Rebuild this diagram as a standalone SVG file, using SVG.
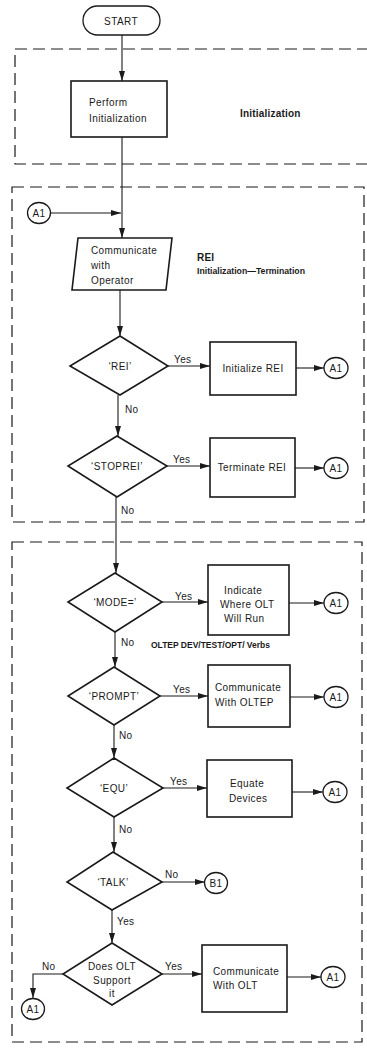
<svg xmlns="http://www.w3.org/2000/svg" width="367" height="1053" viewBox="0 0 367 1053">
<style>
text{font-family:"Liberation Sans",Arial,sans-serif;font-size:10px;fill:#1a1a1a;letter-spacing:0.4px}
.lbl{font-weight:bold;letter-spacing:0.2px}
.sm{font-size:9.5px;letter-spacing:0}
.c{text-anchor:middle}
.shape{fill:#fff;stroke:#1a1a1a;stroke-width:1.6}
.term{fill:#fff;stroke:#1a1a1a;stroke-width:1.3}
.zone{fill:none;stroke:#1a1a1a;stroke-width:1.2;stroke-dasharray:12 6}
.ln{fill:none;stroke:#1a1a1a;stroke-width:1.1}
.ar{marker-end:url(#ah)}
</style>
<defs>
<marker id="ah" markerUnits="userSpaceOnUse" markerWidth="10" markerHeight="6" refX="10" refY="3" orient="auto">
<path d="M0,0 L10,3 L0,6 z" fill="#1a1a1a"/>
</marker>
</defs>
<rect width="367" height="1053" fill="#fff"/>

<g id="zones">
<rect class="zone" x="15" y="49" width="362" height="115"/>
<rect class="zone" x="12" y="187" width="352" height="335"/>
<rect class="zone" x="12" y="542" width="350" height="500"/>
<text class="lbl" x="240" y="117">Initialization</text>
<text class="lbl" x="197" y="261">REI</text>
<text class="lbl sm" x="197" y="274" textLength="108" lengthAdjust="spacingAndGlyphs">Initialization—Termination</text>
<text class="lbl sm" x="151" y="648" textLength="119" lengthAdjust="spacingAndGlyphs">OLTEP DEV/TEST/OPT/ Verbs</text>
</g>

<g id="connectors">
<line class="ln ar" x1="122" y1="35" x2="122" y2="81"/>
<line class="ln ar" x1="122" y1="137" x2="122" y2="238"/>
<line class="ln ar" x1="51" y1="213" x2="121" y2="213"/>
<line class="ln ar" x1="120" y1="290" x2="120" y2="336"/>
<line class="ln ar" x1="168" y1="366" x2="210" y2="366"/>
<line class="ln ar" x1="296" y1="368" x2="324" y2="368"/>
<line class="ln ar" x1="118" y1="395" x2="118" y2="436"/>
<line class="ln ar" x1="167" y1="466" x2="210" y2="466"/>
<line class="ln ar" x1="295" y1="468" x2="324" y2="468"/>
<line class="ln ar" x1="116" y1="497" x2="116" y2="573"/>
<line class="ln ar" x1="162" y1="602" x2="208" y2="602"/>
<line class="ln ar" x1="289" y1="603" x2="324" y2="603"/>
<line class="ln ar" x1="115" y1="632" x2="115" y2="667"/>
<line class="ln ar" x1="160" y1="696" x2="208" y2="696"/>
<line class="ln ar" x1="290" y1="697" x2="324" y2="697"/>
<line class="ln ar" x1="114" y1="725" x2="114" y2="758"/>
<line class="ln ar" x1="163" y1="788" x2="207" y2="788"/>
<line class="ln ar" x1="292" y1="792" x2="323" y2="792"/>
<line class="ln ar" x1="114" y1="817" x2="114" y2="852"/>
<line class="ln ar" x1="162" y1="882" x2="205" y2="882"/>
<line class="ln ar" x1="112" y1="910" x2="112" y2="943"/>
<line class="ln ar" x1="162" y1="974" x2="202" y2="974"/>
<line class="ln ar" x1="287" y1="977" x2="321" y2="977"/>
<polyline class="ln ar" points="63,974 33,974 33,998"/>
<text x="174" y="363">Yes</text>
<text x="125" y="413">No</text>
<text x="173" y="463">Yes</text>
<text x="121" y="514">No</text>
<text x="175" y="600">Yes</text>
<text x="121" y="646">No</text>
<text x="173" y="693">Yes</text>
<text x="119" y="739">No</text>
<text x="170" y="785">Yes</text>
<text x="119" y="833">No</text>
<text x="165" y="878">No</text>
<text x="117" y="925">Yes</text>
<text x="42" y="970">No</text>
<text x="165" y="970">Yes</text>
</g>

<g id="start">
<rect class="term" x="83" y="6" width="77" height="29" rx="14.5"/>
<text class="c" x="121" y="24.5">START</text>
</g>

<g id="perform-init">
<rect class="shape" x="71" y="81" width="96" height="56"/>
<text x="89" y="106">Perform</text>
<text x="89" y="122">Initialization</text>
</g>

<g id="a1-entry">
<ellipse class="term" cx="39" cy="213" rx="11.5" ry="10.5"/>
<text class="c" x="39" y="217">A1</text>
</g>

<g id="communicate-operator">
<polygon class="shape" points="78,238 172,238 166,290 72,290"/>
<text x="91" y="254">Communicate</text>
<text x="91" y="269">with</text>
<text x="91" y="284">Operator</text>
</g>

<g id="d-rei">
<polygon class="shape" points="120,336 168,366 120,395 70,366"/>
<text class="c" x="120" y="370">‘REI’</text>
</g>

<g id="init-rei">
<rect class="shape" x="210" y="342" width="86" height="53"/>
<text class="c" x="253" y="372">Initialize REI</text>
</g>
<g id="a1-rei">
<ellipse class="term" cx="336" cy="368" rx="12" ry="10.5"/>
<text class="c" x="336" y="372">A1</text>
</g>

<g id="d-stoprei">
<polygon class="shape" points="117,436 167,466 117,497 68,466"/>
<text class="c" x="117" y="470">‘STOPREI’</text>
</g>
<g id="term-rei">
<rect class="shape" x="210" y="438" width="85" height="59"/>
<text class="c" x="252" y="471">Terminate REI</text>
</g>
<g id="a1-stoprei">
<ellipse class="term" cx="336" cy="468" rx="12" ry="10.5"/>
<text class="c" x="336" y="472">A1</text>
</g>

<g id="d-mode">
<polygon class="shape" points="115,573 162,602 115,632 68,602"/>
<text class="c" x="115" y="606">‘MODE=’</text>
</g>
<g id="indicate">
<rect class="shape" x="208" y="565" width="81" height="70"/>
<text x="224" y="594">Indicate</text>
<text x="220" y="608">Where OLT</text>
<text x="224" y="622">Will Run</text>
</g>
<g id="a1-mode">
<ellipse class="term" cx="336" cy="603" rx="12" ry="10.5"/>
<text class="c" x="336" y="607">A1</text>
</g>

<g id="d-prompt">
<polygon class="shape" points="114,667 160,696 114,725 68,696"/>
<text class="c" x="114" y="700">‘PROMPT’</text>
</g>
<g id="comm-oltep">
<rect class="shape" x="208" y="665" width="82" height="62"/>
<text x="215" y="691">Communicate</text>
<text x="215" y="706">With OLTEP</text>
</g>
<g id="a1-prompt">
<ellipse class="term" cx="336" cy="697" rx="12" ry="10.5"/>
<text class="c" x="336" y="701">A1</text>
</g>

<g id="d-equ">
<polygon class="shape" points="114,758 163,788 114,817 67,788"/>
<text class="c" x="114" y="792">‘EQU’</text>
</g>
<g id="equate">
<rect class="shape" x="207" y="760" width="85" height="57"/>
<text x="230" y="787">Equate</text>
<text x="229" y="802">Devices</text>
</g>
<g id="a1-equ">
<ellipse class="term" cx="335" cy="792" rx="12" ry="10.5"/>
<text class="c" x="335" y="796">A1</text>
</g>

<g id="d-talk">
<polygon class="shape" points="113,852 162,882 112,910 67,882"/>
<text class="c" x="113" y="886">‘TALK’</text>
</g>
<g id="b1">
<ellipse class="term" cx="216" cy="883" rx="11.5" ry="10.5"/>
<text class="c" x="216" y="887">B1</text>
</g>

<g id="d-support">
<polygon class="shape" points="112,943 162,974 112,1005 63,974"/>
<text class="c" x="112" y="970">Does OLT</text>
<text class="c" x="112" y="984">Support</text>
<text class="c" x="112" y="997">it</text>
</g>
<g id="comm-olt">
<rect class="shape" x="202" y="945" width="85" height="67"/>
<text x="213" y="975">Communicate</text>
<text x="213" y="989">With OLT</text>
</g>
<g id="a1-olt">
<ellipse class="term" cx="333" cy="977" rx="12" ry="10.5"/>
<text class="c" x="333" y="981">A1</text>
</g>
<g id="a1-nosupport">
<ellipse class="term" cx="33" cy="1009" rx="11.5" ry="10.5"/>
<text class="c" x="33" y="1013">A1</text>
</g>
</svg>
